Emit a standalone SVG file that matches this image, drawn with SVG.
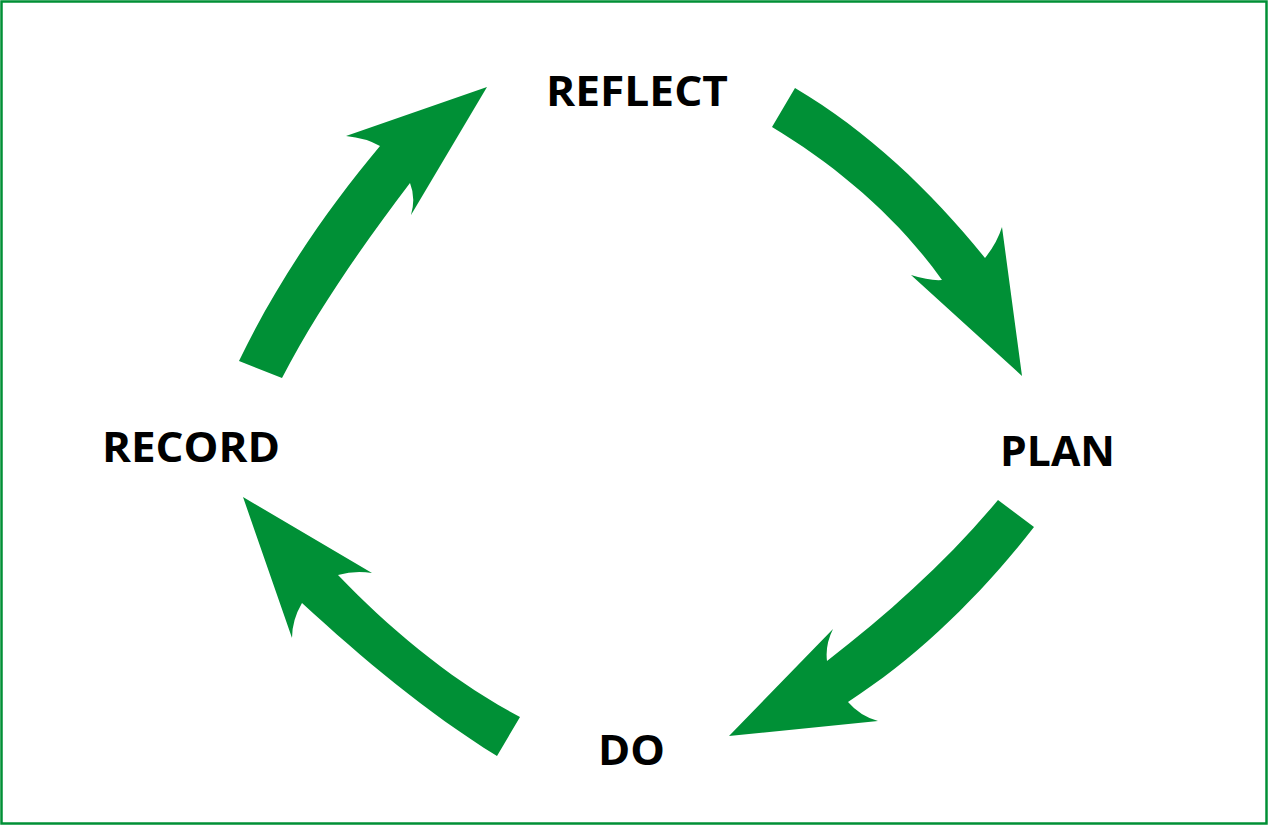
<svg xmlns="http://www.w3.org/2000/svg" width="1269" height="826" viewBox="0 0 1269 826">
<style>
.lbl{font-family:"Open Sans","Liberation Sans",Arial,sans-serif;font-weight:bold;font-size:41px;fill:#000}
.arr{fill:#009036;stroke:none}
</style>
<rect x="0" y="0" width="1269" height="826" fill="#fff"/>
<rect x="1.5" y="1.5" width="1265" height="822" fill="none" stroke="#009036" stroke-width="2.5"/>
<g id="connectors">
<path class="arr" d="M795,88 C868,131 932,192 985,258 Q997,243 1002,227 L1022,376 L911,275 Q930,281 942,280 C898,218 837,166 772,127 Z"/>
<path class="arr" d="M998,500 C948,560 889,613 827,661 Q825,645 833,629 L729,736 L878,721 Q860,716 848,702 C919,656 982,594 1034,527 Z"/>
<path class="arr" d="M243,497 L372,573 Q355,570 338,575 C391,630 452,681 520,717 L497,756 C426,712 363,659 302,603 Q292,620 292,638 Z"/>
<path class="arr" d="M239,361 C276,284 325,212 380,146 Q366,138 346,136 L487,87 L411,215 Q416,198 410,183 C363,245 318,309 282,378 Z"/>
</g>
<g id="reflect"><text class="lbl" x="546" y="106" textLength="182" lengthAdjust="spacingAndGlyphs">REFLECT</text></g>
<g id="plan"><text class="lbl" x="1000" y="466" textLength="115" lengthAdjust="spacingAndGlyphs">PLAN</text></g>
<g id="do"><text class="lbl" x="598" y="765" textLength="67" lengthAdjust="spacingAndGlyphs">DO</text></g>
<g id="record"><text class="lbl" x="102" y="462" textLength="178" lengthAdjust="spacingAndGlyphs">RECORD</text></g>
</svg>
